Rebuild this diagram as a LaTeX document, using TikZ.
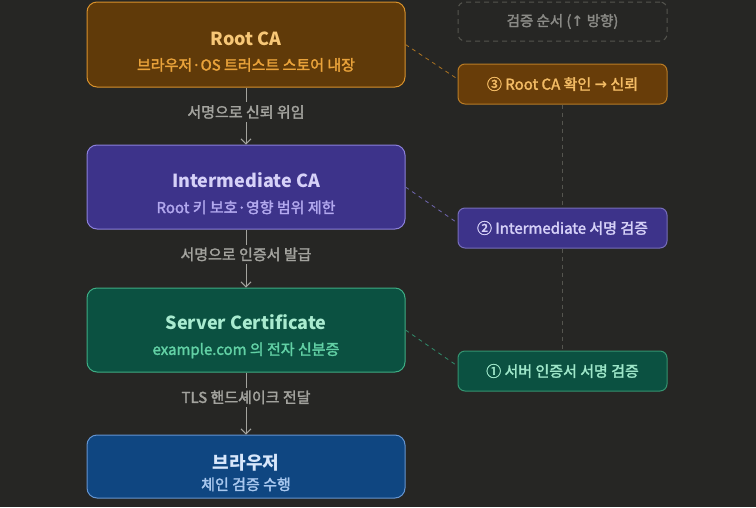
\documentclass[tikz,border=0pt]{standalone}
\usepackage{fontspec}
\setmainfont{Noto Sans CJK KR}
\newfontfamily\mediumkr{Noto Sans CJK KR}[FakeBold=2]
\newfontfamily\arrowsym{DejaVu Sans}
\usepackage{xcolor}
\usetikzlibrary{arrows.meta}

\definecolor{bgdark}{HTML}{262624}
\definecolor{rootfill}{HTML}{603A09}
\definecolor{rootline}{HTML}{D8912B}
\definecolor{roottitle}{HTML}{F7C777}
\definecolor{rootsub}{HTML}{E9A23A}
\definecolor{interfill}{HTML}{3D338A}
\definecolor{interline}{HTML}{8B80DA}
\definecolor{intertitle}{HTML}{D6D1F8}
\definecolor{intersub}{HTML}{B3A9EF}
\definecolor{servfill}{HTML}{0B5141}
\definecolor{servline}{HTML}{3DAD84}
\definecolor{servtitle}{HTML}{A9EBD0}
\definecolor{servsub}{HTML}{62D1A5}
\definecolor{brfill}{HTML}{0F4681}
\definecolor{brline}{HTML}{6494D0}
\definecolor{brtitle}{HTML}{D8E7FB}
\definecolor{brsub}{HTML}{A9C8EF}
\definecolor{flowgray}{HTML}{A3A39E}
\definecolor{ordergray}{HTML}{55554F}
\definecolor{headgray}{HTML}{8A8A86}

\newcommand{\twoline}[4]{{\fontsize{18}{20}\selectfont\bfseries\color{#1}\raisebox{0pt}[28pt]{#2}}\\[#4]{\fontsize{15}{16}\selectfont\mediumkr #3}}

\begin{document}
\begin{tikzpicture}[x=1pt,y=-1pt,
    cabox/.style={draw, line width=1pt, rounded corners=10pt, minimum width=318pt, align=center},
    stepbox/.style={draw, line width=1pt, rounded corners=7pt, minimum width=209pt, minimum height=40pt, font=\fontsize{15}{16}\selectfont\mediumkr},
    flow/.style={draw=flowgray, line width=1pt, -{Straight Barb[length=5pt,width=10pt]}},
    flowlabel/.style={fill=bgdark, text=flowgray, inner sep=3pt, font=\fontsize{15}{16}\selectfont\mediumkr},
    link/.style={dashed, line width=0.8pt, dash pattern=on 4pt off 4pt}]
            \fill[bgdark] (0,0) rectangle (756,507);
            \node[cabox, fill=rootfill, draw=rootline, text=rootsub, minimum height=85pt] (root) at (246,44.5) {\twoline{roottitle}{Root CA}{브라우저·OS 트러스트 스토어 내장}{11.5pt}};
            \node[cabox, fill=interfill, draw=interline, text=intersub, minimum height=84pt] (inter) at (246,187) {\twoline{intertitle}{Intermediate CA}{Root 키 보호·영향 범위 제한}{11.5pt}};
            \node[cabox, fill=servfill, draw=servline, text=servsub, minimum height=84pt] (server) at (246,330) {\twoline{servtitle}{Server Certificate}{example.com 의 전자 신분증}{11.5pt}};
            \node[cabox, fill=brfill, draw=brline, text=brsub, minimum height=63pt] (browser) at (246,466.5) {\twoline{brtitle}{브라우저}{체인 검증 수행}{5pt}};
            \node[stepbox, draw=ordergray, dashed, dash pattern=on 5pt off 4pt, text=headgray, minimum height=39pt, font=\fontsize{14.5}{16}\selectfont\mediumkr] (order) at (562.5,21.5) {검증 순서 ({\arrowsym\bfseries ↑} 방향)};
            \node[stepbox, fill=rootfill!95!orange, draw=rootline!85!black, text=roottitle!70!rootsub] (check3) at (562.5,84) {③ Root CA 확인 {\arrowsym\bfseries →} 신뢰};
            \node[stepbox, fill=interfill, draw=interline!85!black, text=intertitle] (check2) at (562.5,228) {② Intermediate 서명 검증};
            \node[stepbox, fill=servfill, draw=servline!85!black, text=servtitle!85!servsub] (check1) at (562.5,371) {① 서버 인증서 서명 검증};
            \draw[flow] (root) -- node[flowlabel, pos=0.43] {서명으로 신뢰 위임} (inter);
            \draw[flow] (inter) -- node[flowlabel, pos=0.43] {서명으로 인증서 발급} (server);
            \draw[flow] (server) -- node[flowlabel, pos=0.40] {TLS 핸드셰이크 전달} (browser);
            \draw[link, draw=ordergray] (check3) -- (check2);
            \draw[link, draw=ordergray] (check2) -- (check1);
            \draw[link, draw=rootline!80!black] (root.east) -- ([yshift=5pt]check3.west);
            \draw[link, draw=interline!80!black] (inter.east) -- ([yshift=5pt]check2.west);
            \draw[link, draw=servline!80!black] (server.east) -- ([yshift=5pt]check1.west);
        \end{tikzpicture}
\end{document}
